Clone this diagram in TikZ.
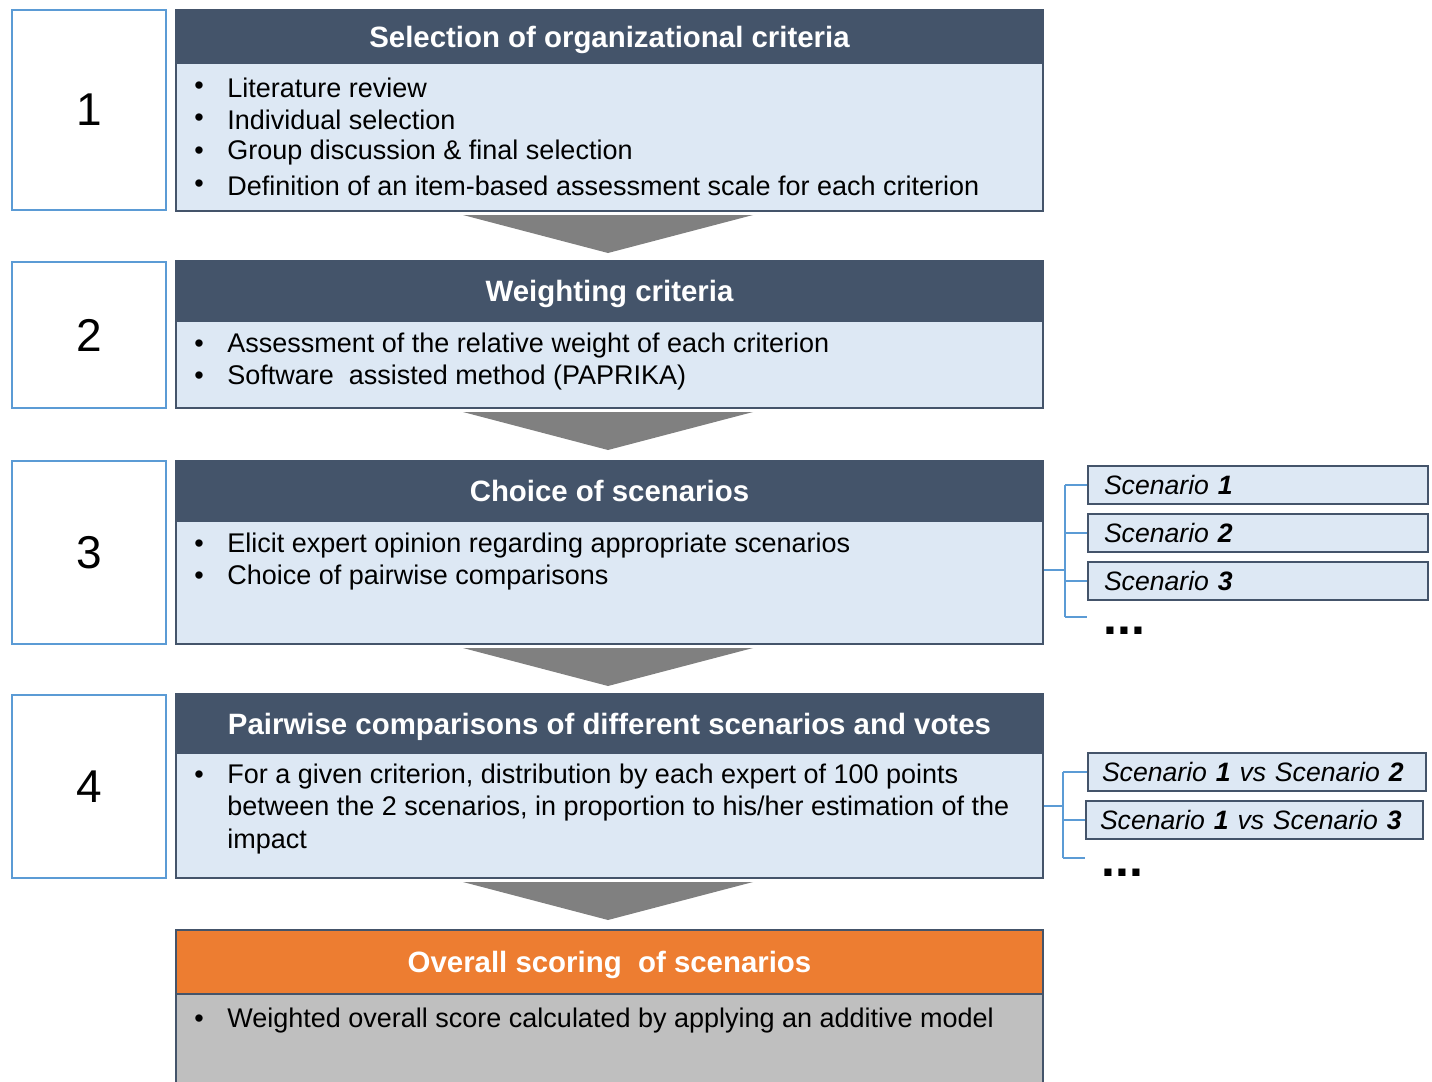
\documentclass[tikz,border=0pt]{standalone}
\usepackage{fontspec}
\setmainfont{Liberation Sans}
\usepackage{xcolor}
\definecolor{headblue}{RGB}{68,84,106}
\definecolor{bodyblue}{RGB}{221,232,244}
\definecolor{numblue}{RGB}{91,155,213}
\definecolor{arrowgray}{RGB}{128,128,128}
\definecolor{scoreorange}{RGB}{237,125,49}
\definecolor{scoregray}{RGB}{191,191,191}

\begin{document}
\begin{tikzpicture}[x=0.5pt, y=-0.5pt,
    numbox/.style={draw=numblue, line width=1pt, fill=white, minimum width=77pt,
        inner sep=0pt, font=\fontsize{23}{27}\selectfont},
    headbox/.style={draw=headblue, line width=1pt, fill=headblue, minimum width=433.5pt,
        inner sep=0pt, text height=10.5pt, text depth=0pt, text=white,
        font=\fontsize{14.7}{17}\selectfont\bfseries},
    bodybox/.style={draw=headblue, line width=1pt, fill=bodyblue, minimum width=433.5pt, inner sep=0pt},
    bullet/.style={inner sep=0pt, font=\fontsize{13.5}{16}\selectfont},
    itemtext/.style={anchor=west, inner sep=0pt, font=\fontsize{13.5}{16}\selectfont},
    scenbox/.style={draw=headblue, line width=1pt, fill=bodyblue, anchor=north west,
        minimum height=19pt, text width=154pt, inner xsep=8pt, inner ysep=0pt, align=left,
        font=\fontsize{13.3}{15}\selectfont\itshape},
    dotstext/.style={anchor=base west, inner sep=0pt, text height=4pt, text depth=0pt,
        font=\fontsize{25}{27}\selectfont\bfseries},
    bracket/.style={numblue, line width=0.6pt}
]
    \useasboundingbox (0,0) rectangle (1432,1082);

    % Step numbers
    \node[numbox, minimum height=100pt]  (num1) at (89,110)   {1};
    \node[numbox, minimum height=73pt]   (num2) at (89,335)   {2};
    \node[numbox, minimum height=91.5pt] (num3) at (89,552.5) {3};
    \node[numbox, minimum height=91.5pt] (num4) at (89,786.5) {4};

    % Step 1
    \node[bodybox, minimum height=74pt]   (body1) at (609.5,137)  {};
    \node[headbox, minimum height=26.5pt] (head1) at (609.5,36.5) {Selection of organizational criteria};
    \foreach \y/\txt [count=\i] in {88/Literature review, 120/Individual selection,
        153/Group discussion \& final selection,
        186/Definition of an item-based assessment scale for each criterion} {
        \node[bullet] (dot1-\i) at (199,\y) {•};
        \node[itemtext] (item1-\i) at (227,\y) {\txt};
    }

    % Step 2
    \node[bodybox, minimum height=43.5pt] (body2) at (609.5,364.5) {};
    \node[headbox, minimum height=30pt]   (head2) at (609.5,291)   {Weighting criteria};
    \foreach \y/\txt [count=\i] in {346/Assessment of the relative weight of each criterion,
        378/Software~ assisted method (PAPRIKA)} {
        \node[bullet] (dot2-\i) at (199,\y) {•};
        \node[itemtext] (item2-\i) at (227,\y) {\txt};
    }

    % Step 3
    \node[bodybox, minimum height=61.5pt] (body3) at (609.5,582.5) {};
    \node[headbox, minimum height=30pt]   (head3) at (609.5,491)   {Choice of scenarios};
    \foreach \y/\txt [count=\i] in {546/Elicit expert opinion regarding appropriate scenarios,
        578/Choice of pairwise comparisons} {
        \node[bullet] (dot3-\i) at (199,\y) {•};
        \node[itemtext] (item3-\i) at (227,\y) {\txt};
    }

    % Step 4
    \node[bodybox, minimum height=62.5pt] (body4) at (609.5,815.5) {};
    \node[headbox, minimum height=29.5pt] (head4) at (609.5,723.5) {Pairwise comparisons of different scenarios and votes};
    \node[bullet] (dot4-1) at (199,777) {•};
    \node[itemtext] (item4-1) at (227,777) {For a given criterion, distribution by each expert of 100 points};
    \node[itemtext] (item4-2) at (227,809) {between the 2 scenarios, in proportion to his/her estimation of the};
    \node[itemtext] (item4-3) at (227,842) {impact};

    % Final scoring
    \node[bodybox, draw=headblue, fill=scoregray, minimum height=49pt] (body5) at (609.5,1043) {};
    \node[headbox, draw=headblue, fill=scoreorange, minimum height=32pt] (head5) at (609.5,962) {Overall scoring~ of scenarios};
    \node[bullet] (dot5-1) at (199,1021) {•};
    \node[itemtext] (item5-1) at (227,1021) {Weighted overall score calculated by applying an additive model};

    % Arrows between steps
    \foreach \top in {215,412,648,882} {
        \fill[arrowgray] (463,\top) -- (753,\top) -- (608,\top+38) -- cycle;
    }

    % Scenarios
    \node[scenbox] (scen1) at (1087,465) {Scenario \textbf{1}};
    \node[scenbox] (scen2) at (1087,513) {Scenario \textbf{2}};
    \node[scenbox] (scen3) at (1087,561) {Scenario \textbf{3}};
    \node[dotstext] (scendots) at (1103,634) {...};
    \coordinate (scen4) at (1087,617);
    \coordinate (split3) at (1065,570);
    \draw[bracket] (body3.east |- split3) -- (split3);
    \draw[bracket] (split3 |- scen1.west) -- (split3 |- scen4);
    \foreach \s in {scen1,scen2,scen3,scen4}
        \draw[bracket] (split3 |- \s.west) -- (\s.west);

    % Pairwise comparisons
    \node[scenbox, inner xsep=7pt, text width=155pt] (pair1) at (1087,752) {Scenario \textbf{1} vs Scenario \textbf{2}};
    \node[scenbox, inner xsep=7pt, text width=154.5pt] (pair2) at (1085,800) {Scenario \textbf{1} vs Scenario \textbf{3}};
    \node[dotstext] (pairdots) at (1101,876) {...};
    \coordinate (pair3) at (1085,858);
    \coordinate (split4) at (1063,806);
    \draw[bracket] (body4.east |- split4) -- (split4);
    \draw[bracket] (split4 |- pair1.west) -- (split4 |- pair3);
    \foreach \s in {pair1,pair2,pair3}
        \draw[bracket] (split4 |- \s.west) -- (\s.west);
\end{tikzpicture}
\end{document}
